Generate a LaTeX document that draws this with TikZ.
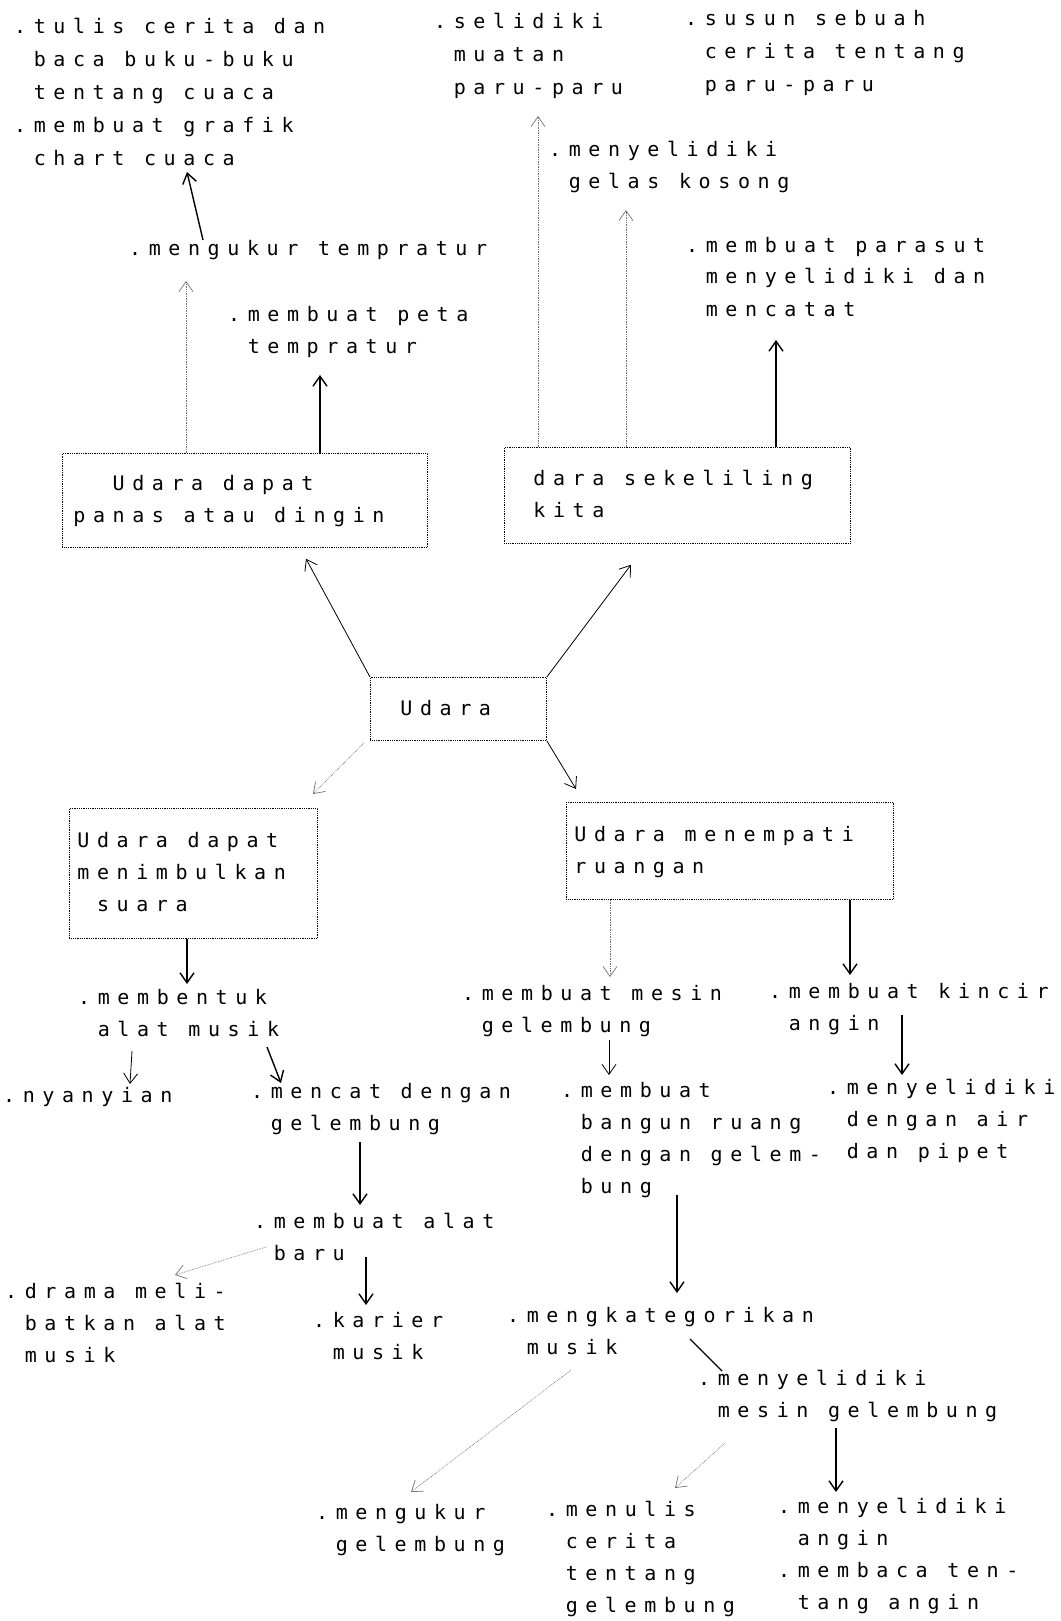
\documentclass[tikz,border=0pt]{standalone}
\usepackage{fontspec}
\usetikzlibrary{calc,arrows.meta}

\newfontfamily\dotmatrix[LetterSpace=38]{DejaVu Sans Mono}
\newcommand\dotfont{\dotmatrix\fontsize{20}{32}\selectfont
    \setbox0\hbox{xx}\dimen0=\wd0 \setbox0\hbox{x}\advance\dimen0 by -\wd0
    \fontdimen2\font=\dimen0 \fontdimen3\font=0pt \fontdimen4\font=0pt
    \spaceskip=\dimen0\relax \xspaceskip=\dimen0\relax}
\newcommand\ind{\hspace*{\fontdimen2\font}}
\newcommand\txtlines[1]{\begin{tabular}[t]{@{}l@{}}#1\end{tabular}}
\newcommand\boxlines[2]{\makebox[#1][l]{\begin{tabular}{@{}l@{}}#2\end{tabular}}}

\begin{document}
\begin{tikzpicture}[
        x=1pt, y=-1pt,
        TxtCfg/.style={anchor=base west, inner sep=0pt, font=\dotfont},
        BoxCfg/.style={draw, densely dotted, line width=0.8pt, anchor=north west,
            inner ysep=0pt, font=\dotfont},
        BoldArr/.style={line width=1.4pt, -{Straight Barb[length=10pt,width=14pt]}},
        ThinArr/.style={line width=0.8pt, -{Straight Barb[length=10pt,width=14pt]}},
        FaintArr/.style={line width=0.7pt, black!55, densely dotted,
            -{Straight Barb[length=10pt,width=14pt]}}
    ]
    \useasboundingbox (0,0) rectangle (1060,1621);

    % boxes
    \draw (62,453)node[BoxCfg, inner xsep=11, minimum height=94](panas){\boxlines{343pt}{\ind\ind Udara dapat\\panas atau dingin}};
    \draw (504,447)node[BoxCfg, inner xsep=29, minimum height=96](sekeliling){\boxlines{288pt}{dara sekeliling\\kita}};
    \draw (370,677)node[BoxCfg, inner xsep=30, minimum height=63](udara){\boxlines{116pt}{Udara}};
    \draw (69,808)node[BoxCfg, inner xsep=8, minimum height=130](suara){\boxlines{232pt}{Udara dapat\\menimbulkan\\\ind suara}};
    \draw (566,802)node[BoxCfg, inner xsep=8, minimum height=97](ruangan){\boxlines{311pt}{Udara menempati\\ruangan}};

    % top part
    \draw (14,34)node[TxtCfg](tulis){\txtlines{.tulis cerita dan\\[1pt]\ind baca buku-buku\\[1pt]\ind tentang cuaca\\[1pt].membuat grafik\\[1pt]\ind chart cuaca}};
    \draw (434,29)node[TxtCfg](selidiki){\txtlines{.selidiki\\[1pt]\ind muatan\\[1pt]\ind paru-paru}};
    \draw (685,26)node[TxtCfg](susun){\txtlines{.susun sebuah\\[1pt]\ind cerita tentang\\[1pt]\ind paru-paru}};
    \draw (549,157)node[TxtCfg](gelas){\txtlines{.menyelidiki\\\ind gelas kosong}};
    \draw (129,255)node[TxtCfg](mengukur){.mengukur tempratur};
    \draw (228,321)node[TxtCfg](peta){\txtlines{.membuat peta\\\ind tempratur}};
    \draw (686,252)node[TxtCfg](parasut){\txtlines{.membuat parasut\\\ind menyelidiki dan\\\ind mencatat}};

    % bottom left
    \draw (78,1004)node[TxtCfg](membentuk){\txtlines{.membentuk\\\ind alat musik}};
    \draw (3,1102)node[TxtCfg](nyanyian){.nyanyian};
    \draw (251,1098)node[TxtCfg](mencat){\txtlines{.mencat dengan\\\ind gelembung}};
    \draw (254,1228)node[TxtCfg](alatbaru){\txtlines{.membuat alat\\\ind baru}};
    \draw (5,1298)node[TxtCfg](drama){\txtlines{.drama meli-\\\ind batkan alat\\\ind musik}};
    \draw (313,1327)node[TxtCfg](karier){\txtlines{.karier\\\ind musik}};

    % bottom right
    \draw (462,1000)node[TxtCfg](mesin){\txtlines{.membuat mesin\\\ind gelembung}};
    \draw (769,998)node[TxtCfg](kincir){\txtlines{.membuat kincir\\\ind angin}};
    \draw (561,1097)node[TxtCfg](bangun){\txtlines{.membuat\\\ind bangun ruang\\\ind dengan gelem-\\\ind bung}};
    \draw (827,1094)node[TxtCfg](pipet){\txtlines{.menyelidiki\\\ind dengan air\\\ind dan pipet}};
    \draw (507,1322)node[TxtCfg](kategori){\txtlines{.mengkategorikan\\\ind musik}};
    \draw (698,1385)node[TxtCfg](mesingel){\txtlines{.menyelidiki\\\ind mesin gelembung}};
    \draw (316,1519)node[TxtCfg](ukurgel){\txtlines{.mengukur\\\ind gelembung}};
    \draw (546,1516)node[TxtCfg](menulis){\txtlines{.menulis\\\ind cerita\\\ind tentang\\\ind gelembung}};
    \draw (778,1513)node[TxtCfg](angin){\txtlines{.menyelidiki\\\ind angin\\.membaca ten-\\\ind tang angin}};

    % arrows up
    \draw[FaintArr] ([xshift=124]panas.north west)--([shift={(57,26)}]mengukur.base west);
    \draw[BoldArr] ([shift={(74,-15)}]mengukur.base west)--([shift={(173,138)}]tulis.base west);
    \draw[BoldArr] ([xshift=258]panas.north west)--([shift={(92,54)}]peta.base west);
    \draw[FaintArr] ([xshift=34]sekeliling.north west)--([shift={(104,87)}]selidiki.base west);
    \draw[FaintArr] ([xshift=122]sekeliling.north west)--([shift={(77,53)}]gelas.base west);
    \draw[BoldArr] ([xshift=272]sekeliling.north west)--([shift={(90,88)}]parasut.base west);

    % arrows from Udara
    \draw[ThinArr] (udara.north west)--([shift={(244,11)}]panas.south west);
    \draw[ThinArr] (udara.north east)--([shift={(127,21)}]sekeliling.south west);
    \draw[FaintArr] ([shift={(-6,2)}]udara.south west)--([shift={(244,-14)}]suara.north west);
    \draw[ThinArr] (udara.south east)--([shift={(10,-13)}]ruangan.north west);

    % arrows down left
    \draw[BoldArr] ([xshift=118]suara.south west)--([shift={(109,-20)}]membentuk.base west);
    \draw[ThinArr] ([shift={(54,47)}]membentuk.base west)--([shift={(127,-18)}]nyanyian.base west);
    \draw[BoldArr] ([shift={(189,43)}]membentuk.base west)--([shift={(30,-15)}]mencat.base west);
    \draw[BoldArr] ([shift={(109,44)}]mencat.base west)--([shift={(106,-23)}]alatbaru.base west);
    \draw[FaintArr] ([shift={(12,19)}]alatbaru.base west)--([shift={(170,-23)}]drama.base west);
    \draw[BoldArr] ([shift={(112,29)}]alatbaru.base west)--([shift={(53,-22)}]karier.base west);

    % arrows down right
    \draw[FaintArr] ([xshift=44]ruangan.south west)--([shift={(148,-23)}]mesin.base west);
    \draw[BoldArr] ([xshift=284]ruangan.south west)--([shift={(81,-23)}]kincir.base west);
    \draw[ThinArr] ([shift={(147,40)}]mesin.base west)--([shift={(48,-22)}]bangun.base west);
    \draw[BoldArr] ([shift={(133,17)}]kincir.base west)--([shift={(75,-19)}]pipet.base west);
    \draw[BoldArr] ([shift={(116,98)}]bangun.base west)--([shift={(170,-29)}]kategori.base west);
    \draw[line width=1.4pt] ([shift={(183,17)}]kategori.base west)--([shift={(24,-14)}]mesingel.base west);
    \draw[FaintArr] ([shift={(64,48)}]kategori.base west)--([shift={(95,-27)}]ukurgel.base west);
    \draw[FaintArr] ([shift={(27,58)}]mesingel.base west)--([shift={(129,-28)}]menulis.base west);
    \draw[BoldArr] ([shift={(138,43)}]mesingel.base west)--([shift={(58,-21)}]angin.base west);

\end{tikzpicture}
\end{document}
